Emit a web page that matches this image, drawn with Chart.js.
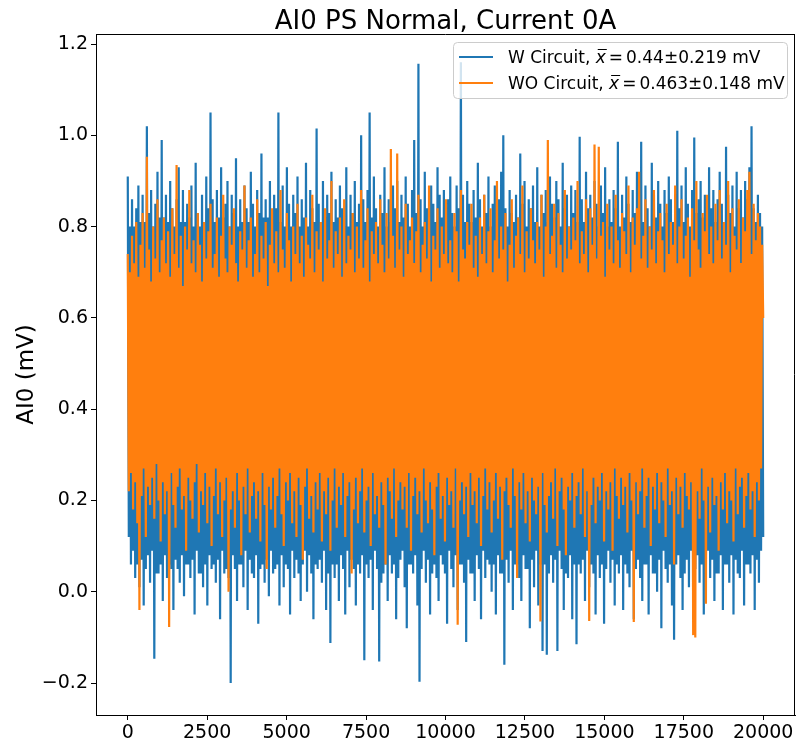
<!DOCTYPE html>
<html><head><meta charset="utf-8">
<script src="https://cdn.jsdelivr.net/npm/chart.js@4.4.0/dist/chart.umd.min.js"></script>
<style>html,body{margin:0;padding:0;background:#fff;overflow:hidden;} canvas{display:block;}</style>
</head><body>
<canvas id="c" width="796" height="743"></canvas>
<script>
const titleText = 'AI0 PS Normal, Current 0A';
const yAxisLabel = 'AI0 (mV)';
const seriesNames = ['W Circuit', 'WO Circuit'];
const legendStats = ['0.44±0.219 mV', '0.463±0.148 mV'];
const sampleCount = 20000;
const xTickValues = [0, 2500, 5000, 7500, 10000, 12500, 15000, 17500, 20000];
const xTickLabels = ['0', '2500', '5000', '7500', '10000', '12500', '15000', '17500', '20000'];
const yTickValues = [-0.2, 0.0, 0.2, 0.4, 0.6, 0.8, 1.0, 1.2];
const yTickLabels = ['\u22120.2', '0.0', '0.2', '0.4', '0.6', '0.8', '1.0', '1.2'];

// W Circuit trace: successive upper / lower excursions read across the plot
const wCircuit = [
0.91,0.12, 0.80,0.06, 0.86,0.09, 0.80,0.03, 0.84,0.06, 0.89,0.01, 0.81,0.07, 0.87,-0.03, 0.81,0.05, 1.02,0.08,
0.83,0.02, 0.88,0.09, 0.80,-0.147, 0.85,0.04, 0.92,0.04, 0.82,0.06, 0.99,-0.02, 0.82,0.08, 0.87,0.03, 0.81,0.06,
0.90,0.05, 0.84,-0.04, 0.80,0.07, 0.86,0.05, 0.93,0.02, 0.81,0.08, 0.88,-0.01, 0.81,0.06, 0.85,0.06, 0.82,0.03,
0.89,0.07, 0.80,-0.05, 0.94,0.09, 0.83,0.04, 0.80,0.04, 0.87,0.01, 0.81,0.06, 0.91,-0.03, 0.84,0.08, 1.05,0.05,
0.86,0.06, 0.81,0.02, 0.88,0.07, 0.82,-0.06, 0.93,0.09, 0.82,0.04, 0.85,0.05, 0.90,0.03, 0.80,-0.20, 0.87,0.08,
0.83,0.05, 0.95,-0.02, 0.80,0.06, 0.86,0.06, 0.81,0.01, 0.89,0.09, 0.84,-0.04, 0.81,0.07, 0.92,0.04, 0.85,0.03,
0.80,0.08, 0.88,-0.07, 0.83,0.05, 0.96,0.06, 0.82,0.02, 0.86,0.07, 0.82,-0.01, 0.90,0.09, 0.81,0.04, 0.87,0.05,
0.84,0.06, 1.05,-0.03, 0.81,0.08, 0.89,0.01, 0.80,0.06, 0.93,0.05, 0.85,-0.05, 0.80,0.09, 0.87,0.03, 0.83,0.07,
0.91,0.04, 0.80,-0.02, 0.86,0.06, 0.82,0.09, 0.94,0.00, 0.80,0.08, 0.88,0.04, 0.84,-0.06, 0.81,0.06, 1.015,0.05,
0.85,0.07, 0.81,0.02, 0.90,0.09, 0.82,-0.04, 0.87,0.04, 0.83,-0.112, 0.92,0.06, 0.81,0.03, 0.86,0.06, 0.82,-0.02,
0.89,0.08, 0.84,0.05, 0.80,-0.05, 0.93,0.09, 0.80,0.01, 0.87,0.07, 0.83,0.05, 0.90,-0.03, 0.81,0.06, 0.85,0.04,
1.00,0.08, 0.86,-0.15, 0.81,0.06, 0.88,0.03, 1.05,0.07, 0.82,-0.04, 0.91,0.09, 0.84,0.05, 0.80,-0.153, 0.87,0.02,
0.83,0.04, 0.93,0.06, 0.80,-0.02, 0.86,0.08, 0.81,0.04, 0.89,0.06, 0.84,-0.06, 0.90,0.03, 0.81,0.07, 0.87,0.09,
0.82,0.01, 0.91,-0.08, 0.85,0.06, 0.80,0.06, 0.88,0.04, 0.99,0.08, 0.83,-0.03, 1.157,-0.197, 0.86,0.05, 0.80,0.09,
0.92,0.02, 0.84,0.07, 0.81,-0.05, 0.89,0.04, 0.85,0.06, 0.81,0.03, 0.93,-0.02, 0.87,0.08, 0.82,0.06, 0.88,0.04,
0.80,-0.07, 0.86,0.09, 0.91,0.05, 0.83,0.01, 0.80,0.08, 0.89,-0.04, 0.84,0.06, 1.16,0.06, 0.87,0.02, 0.81,-0.11,
0.90,0.07, 0.85,0.04, 0.81,0.04, 0.88,-0.02, 0.82,0.08, 0.94,0.05, 0.86,-0.06, 0.80,0.09, 0.87,0.03, 0.83,0.07,
0.91,0.06, 0.80,0.00, 0.85,0.06, 0.89,-0.05, 0.81,0.08, 0.86,0.04, 0.92,0.04, 1.00,-0.16, 0.84,0.07, 0.80,0.02,
0.88,0.09, 0.83,-0.04, 0.81,0.06, 0.87,0.06, 0.82,0.03, 0.96,-0.02, 0.85,0.08, 0.90,0.05, 0.80,0.05, 0.86,-0.08,
0.84,0.07, 0.89,0.01, 0.81,0.09, 0.93,-0.03, 0.80,0.06, 0.87,-0.13, 0.83,0.06, 0.88,-0.138, 0.81,0.04, 0.91,0.08,
0.85,0.02, 0.82,0.07, 0.90,-0.13, 0.86,0.09, 0.80,0.05, 0.94,-0.04, 0.84,0.04, 0.87,0.03, 0.80,0.08, 0.89,-0.06,
0.83,0.06, 0.88,-0.115, 0.81,0.06, 0.997,0.04, 0.86,0.07, 0.81,-0.02, 0.92,0.09, 0.84,0.01, 0.87,0.06, 0.82,0.04,
0.90,-0.05, 0.85,0.08, 0.80,0.03, 0.89,0.06, 0.83,-0.07, 0.93,0.05, 0.80,0.09, 0.86,0.02, 0.81,0.07, 0.88,-0.03,
0.84,0.06, 0.986,0.04, 0.80,0.08, 0.87,-0.04, 0.82,0.06, 0.91,0.04, 0.85,0.01, 0.81,0.09, 0.88,-0.06, 0.83,0.05,
0.92,0.07, 0.86,0.03, 0.986,-0.02, 0.81,0.06, 0.89,0.06, 0.84,-0.05, 0.80,0.08, 0.94,0.04, 0.87,0.04, 0.82,0.00,
0.90,0.07, 0.85,-0.08, 0.80,0.09, 0.88,0.05, 0.83,0.02, 0.91,0.06, 0.86,-0.03, 0.81,-0.105, 0.87,0.06, 1.01,0.08,
0.84,0.03, 0.89,-0.04, 0.81,0.04, 0.93,0.07, 0.85,0.01, 0.80,0.09, 0.88,-0.06, 0.995,0.05, 0.83,0.08, 0.86,0.02,
0.90,0.06, 0.82,-0.05, 0.87,0.06, 0.81,0.09, 0.93,0.03, 0.84,0.07, 0.88,-0.02, 0.81,0.04, 0.86,0.04, 0.92,0.08,
0.85,-0.04, 0.80,0.06, 0.975,0.06, 0.87,0.02, 0.83,0.08, 0.89,-0.05, 0.80,0.07, 0.92,0.04, 0.84,0.03, 0.88,0.09,
0.82,-0.03, 0.90,0.06, 0.86,0.06, 0.93,0.04, 1.02,0.08, 0.84,-0.04, 0.81,0.07, 0.87,0.02, 0.83,0.09, 0.80,0.12
];

// WO Circuit trace: successive upper / lower excursions read across the plot
const woCircuit = [
0.74,0.22, 0.70,0.26, 0.78,0.18, 0.72,0.24, 0.81,0.15, 0.69,-0.04, 0.76,0.21, 0.83,0.27, 0.71,0.12, 0.953,0.23,
0.75,0.19, 0.68,0.25, 0.80,0.16, 0.73,0.28, 0.86,0.20, 0.70,0.11, 0.77,0.24, 0.82,0.17, 0.72,0.22, 0.79,-0.077,
0.69,0.26, 0.84,0.19, 0.74,0.14, 0.935,0.23, 0.71,0.27, 0.78,0.18, 0.67,0.21, 0.80,0.09, 0.75,0.25, 0.88,0.20,
0.72,0.16, 0.77,0.24, 0.70,0.28, 0.83,0.13, 0.76,0.22, 0.68,0.19, 0.81,0.26, 0.73,0.15, 0.79,0.23, 0.85,0.10,
0.71,0.21, 0.74,0.27, 0.82,0.17, 0.69,0.24, 0.78,0.12, 0.87,0.20, 0.73,0.25, 0.70,0.00, 0.80,0.18, 0.76,0.22,
0.84,0.14, 0.72,0.26, 0.68,0.20, 0.79,0.08, 0.75,0.23, 0.89,0.17, 0.71,0.27, 0.77,0.13, 0.82,0.21, 0.69,0.24,
0.74,0.16, 0.86,0.22, 0.70,0.11, 0.78,0.26, 0.73,0.19, 0.81,0.05, 0.67,0.23, 0.76,0.18, 0.84,0.25, 0.72,0.14,
0.79,0.21, 0.70,0.27, 0.88,0.17, 0.75,0.10, 0.71,0.24, 0.83,0.20, 0.77,0.26, 0.68,0.15, 0.80,0.22, 0.74,0.12,
0.85,0.25, 0.72,0.19, 0.78,0.07, 0.69,0.23, 0.82,0.27, 0.76,0.16, 0.73,0.21, 0.87,0.13, 0.70,0.24, 0.79,0.18,
0.75,0.26, 0.81,0.11, 0.68,0.22, 0.84,0.17, 0.73,0.25, 0.77,0.09, 0.90,0.20, 0.71,0.27, 0.79,0.14, 0.74,0.23,
0.82,0.19, 0.69,0.26, 0.86,0.12, 0.72,0.21, 0.78,0.24, 0.75,0.04, 0.83,0.18, 0.70,0.25, 0.80,0.15, 0.73,0.22,
0.88,0.27, 0.71,0.13, 0.77,0.20, 0.84,0.23, 0.68,0.10, 0.79,0.26, 0.74,0.17, 0.81,0.21, 0.72,0.14, 0.86,0.24,
0.76,0.19, 0.70,0.06, 0.83,0.25, 0.73,0.22, 0.97,0.16, 0.78,0.27, 0.71,0.12, 0.96,0.20, 0.75,0.24, 0.80,0.18,
0.69,0.23, 0.85,0.14, 0.74,0.26, 0.77,0.09, 0.82,0.21, 0.72,0.25, 0.79,0.17, 0.87,0.22, 0.70,0.13, 0.76,0.27,
0.81,0.20, 0.73,0.15, 0.89,0.24, 0.68,0.18, 0.78,0.08, 0.75,0.23, 0.84,0.26, 0.71,0.16, 0.80,0.21, 0.74,0.11,
0.86,0.25, 0.72,0.19, 0.77,0.22, 0.70,0.14, 0.83,0.27, 0.79,-0.072, 0.68,0.20, 0.88,0.24, 0.75,0.17, 0.73,0.23,
0.81,0.12, 0.76,0.26, 0.85,0.19, 0.71,0.22, 0.78,0.15, 0.69,0.25, 0.82,0.10, 0.74,0.21, 0.87,0.27, 0.72,0.18,
0.79,0.24, 0.84,0.13, 0.70,0.20, 0.77,0.26, 0.90,0.16, 0.73,0.23, 0.80,0.07, 0.75,0.22, 0.83,0.25, 0.68,0.19,
0.76,0.14, 0.86,0.27, 0.71,0.21, 0.78,0.03, 0.82,0.24, 0.74,0.18, 0.89,0.26, 0.70,0.15, 0.79,0.22, 0.73,0.11,
0.84,0.25, 0.77,0.20, 0.72,0.17, 0.81,0.23, 0.75,-0.065, 0.87,0.26, 0.69,0.19, 0.80,0.13, 0.99,0.21, 0.74,0.24,
0.78,0.16, 0.85,0.27, 0.71,0.10, 0.83,0.22, 0.76,0.25, 0.70,0.18, 0.88,0.08, 0.73,0.23, 0.80,0.20, 0.75,0.26,
0.82,0.14, 0.77,0.21, 0.90,0.24, 0.72,0.17, 0.79,0.27, 0.74,0.12, 0.86,0.22, 0.70,-0.064, 0.84,0.19, 0.76,0.25,
0.98,0.15, 0.73,0.23, 0.975,0.20, 0.78,0.26, 0.81,0.11, 0.69,0.22, 0.85,0.18, 0.75,0.24, 0.80,0.09, 0.72,0.27,
0.87,0.21, 0.77,0.16, 0.71,0.25, 0.83,0.19, 0.79,0.23, 0.74,0.13, 0.89,0.26, 0.70,0.20, 0.82,-0.066, 0.76,0.24,
0.84,0.17, 0.92,0.22, 0.73,0.27, 0.78,0.14, 0.86,0.21, 0.71,0.25, 0.80,0.10, 0.75,0.23, 0.88,0.18, 0.72,0.26,
0.79,0.15, 0.83,0.24, 0.77,0.20, 0.70,0.12, 0.85,0.27, 0.74,0.19, 0.81,0.22, 0.76,0.06, 0.89,0.25, 0.72,0.17,
0.80,0.23, 0.86,0.14, 0.73,0.26, 0.78,0.21, 0.82,0.18, 0.69,0.24, 0.84,-0.095, 0.77,-0.10, 0.90,0.22, 0.75,0.16,
0.71,0.27, 0.83,0.20, 0.79,-0.026, 0.87,0.23, 0.74,0.13, 0.80,0.25, 0.72,0.19, 0.85,0.21, 0.77,0.09, 0.88,0.24,
0.73,0.18, 0.81,0.26, 0.76,0.15, 0.90,0.22, 0.70,0.20, 0.84,0.11, 0.78,0.27, 0.75,0.17, 0.86,0.23, 0.72,0.25,
0.82,0.14, 0.79,0.21, 0.88,0.26, 0.92,0.18, 0.74,0.22, 0.85,0.12, 0.77,0.24, 0.83,0.20, 0.80,0.27, 0.76,0.60
];

const colors = ['#1f77b4', '#ff7f0e'];
const FONT = "'DejaVu Sans', 'Liberation Sans', sans-serif";
const traceWidth = 2.2;

function toPoints(arr) {
  const n = arr.length;
  return arr.map((v, i) => ({ x: Math.round(i * (sampleCount - 1) / (n - 1)), y: v }));
}

const framePlugin = {
  id: 'frame',
  afterDraw(chart) {
    const ctx = chart.ctx;
    const a = chart.chartArea;
    ctx.save();
    ctx.strokeStyle = '#000';
    ctx.lineWidth = 1;
    ctx.beginPath();
    ctx.moveTo(a.left, a.top + 0.5);
    ctx.lineTo(a.right, a.top + 0.5);
    ctx.moveTo(a.right - 0.5, a.top);
    ctx.lineTo(a.right - 0.5, a.bottom);
    ctx.stroke();
    ctx.fillStyle = '#000';
    ctx.font = '26px ' + FONT;
    ctx.textAlign = 'center';
    ctx.textBaseline = 'alphabetic';
    ctx.fillText(titleText, (a.left + a.right) / 2, 29);
    ctx.save();
    ctx.translate(27, (a.top + a.bottom) / 2);
    ctx.rotate(-Math.PI / 2);
    ctx.font = '23px ' + FONT;
    ctx.textAlign = 'center';
    ctx.textBaseline = 'middle';
    ctx.fillText(yAxisLabel, 0, 0);
    ctx.restore();
    const bx = 453.5, by = 42.5, bw = 334, bh = 56, r = 4;
    ctx.globalAlpha = 0.8;
    ctx.fillStyle = '#fff';
    ctx.beginPath();
    ctx.roundRect(bx, by, bw, bh, r);
    ctx.fill();
    ctx.globalAlpha = 1;
    ctx.strokeStyle = '#cccccc';
    ctx.lineWidth = 1;
    ctx.stroke();
    const rows = [57, 83];
    for (let i = 0; i < 2; i++) {
      const yc = rows[i];
      ctx.strokeStyle = colors[i];
      ctx.lineWidth = 2;
      ctx.beginPath();
      ctx.moveTo(459, yc);
      ctx.lineTo(493, yc);
      ctx.stroke();
      ctx.fillStyle = '#000';
      ctx.textAlign = 'left';
      ctx.textBaseline = 'alphabetic';
      const base = yc + 6;
      let x = 508;
      ctx.font = '17px ' + FONT;
      const t1 = seriesNames[i] + ', ';
      ctx.fillText(t1, x, base);
      x += ctx.measureText(t1).width;
      ctx.font = 'italic 17px ' + FONT;
      ctx.fillText('x', x, base);
      const xw = ctx.measureText('x').width;
      ctx.lineWidth = 1;
      ctx.strokeStyle = '#000';
      ctx.beginPath();
      ctx.moveTo(x + 2, base - 13.5);
      ctx.lineTo(x + xw + 1, base - 13.5);
      ctx.stroke();
      x += xw + 3;
      ctx.font = '17px ' + FONT;
      ctx.fillText('=', x, base);
      x += ctx.measureText('=').width + 3;
      ctx.fillText(legendStats[i], x, base);
    }
    ctx.restore();
  }
};

const tickFont = { family: FONT, size: 19 };

new Chart(document.getElementById('c'), {
  type: 'line',
  data: {
    datasets: [
      { label: seriesNames[0], data: toPoints(wCircuit), borderColor: colors[0], borderWidth: traceWidth, pointRadius: 0, fill: false, order: 1 },
      { label: seriesNames[1], data: toPoints(woCircuit), borderColor: colors[1], borderWidth: traceWidth, pointRadius: 0, fill: false, order: 0 }
    ]
  },
  options: {
    responsive: false,
    animation: false,
    devicePixelRatio: 1,
    layout: { padding: { top: 34, right: 1, left: 0, bottom: 0 } },
    plugins: { legend: { display: false }, tooltip: { enabled: false }, title: { display: false } },
    elements: { point: { radius: 0 }, line: { tension: 0, borderJoinStyle: 'miter', borderCapStyle: 'butt' } },
    scales: {
      x: {
        type: 'linear', min: -1000, max: 21000,
        afterBuildTicks: s => { s.ticks = xTickValues.map(v => ({ value: v })); },
        afterFit: s => { s.height = 28; },
        grid: { drawOnChartArea: false, drawTicks: true, tickLength: 5, color: '#000', lineWidth: 1 },
        border: { display: true, color: '#000', width: 1 },
        ticks: {
          font: tickFont, color: '#000', padding: 2, maxRotation: 0, autoSkip: false,
          callback: v => { const k = xTickValues.indexOf(v); return k >= 0 ? xTickLabels[k] : ''; }
        }
      },
      y: {
        type: 'linear', min: -0.27, max: 1.222,
        afterBuildTicks: s => { s.ticks = yTickValues.map(v => ({ value: v })); },
        afterFit: s => { s.width = 96; },
        grid: { drawOnChartArea: false, drawTicks: true, tickLength: 5, color: '#000', lineWidth: 1 },
        border: { display: true, color: '#000', width: 1 },
        ticks: {
          font: tickFont, color: '#000', padding: 3, autoSkip: false,
          callback: v => { const k = yTickValues.findIndex(t => Math.abs(t - v) < 1e-9); return k >= 0 ? yTickLabels[k] : ''; }
        }
      }
    }
  },
  plugins: [framePlugin]
});
</script>
</body></html>
